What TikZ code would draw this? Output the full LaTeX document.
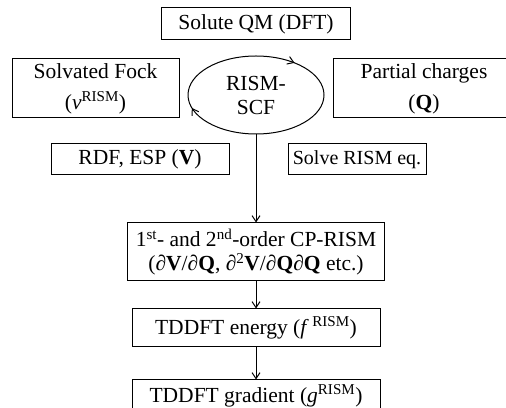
\documentclass[tikz,border=0pt]{standalone}
\usepackage{fontspec}
\setmainfont{Liberation Serif}
\usetikzlibrary{shapes,arrows.meta,positioning,decorations.markings}
\tikzstyle{arrow} = [draw, -{Straight Barb[length=6pt,width=8pt]}]
\tikzstyle{box} = [draw, rectangle, inner sep=0pt, align=center]
\tikzstyle{loopmark} = [decoration={markings,
    mark=at position 0.135 with {\arrowreversed{Straight Barb[length=6pt,width=8pt]}},
    mark=at position 0.54 with {\arrowreversed{Straight Barb[length=6pt,width=8pt]}}},
    postaction={decorate}]
\begin{document}
\begin{tikzpicture}[
      x=1pt, y=1pt,
      line width=1pt,
      font=\fontsize{21.5}{24}\selectfont
    ]
      \useasboundingbox (0,0) rectangle (506,407);
      \clip (0,0) rectangle (506,407);

      \node[ellipse, draw, loopmark, minimum width=136pt, minimum height=78pt, inner sep=0pt,
            align=center] (rismScf) at (256,312) {RISM-\\SCF};
      \node[box, minimum width=189pt, minimum height=32pt] (soluteQm) [above=15pt of rismScf] {Solute QM (DFT)};
      \node[box, minimum width=167pt, minimum height=59pt] (solvFock) at (95.5,318.5)
        {Solvated Fock\\[7pt](\textit{ν}\textsuperscript{RISM})};
      \node[box, minimum width=182pt, minimum height=59pt] (partCharges) at (424,318.5)
        {Partial charges\\[7pt](\textbf{Q})};
      \node[box, minimum width=178pt, minimum height=31pt] (rdfEsp) at (140,247.5) {RDF, ESP (\textbf{V})};
      \node[box, minimum width=138pt, minimum height=31pt,
            font=\fontsize{20}{23}\selectfont] (solveRism) at (357,247.5) {Solve RISM eq.};

      \node[box, minimum width=257pt, minimum height=58pt] (cpRism) [below=88pt of rismScf]
        {1\textsuperscript{st}- and 2\textsuperscript{nd}-order CP-RISM\\
         (\textit{∂}\textbf{V}/\textit{∂}\textbf{Q}, \textit{∂}\textsuperscript{2}\textbf{V}/\textit{∂}\textbf{Q}\textit{∂}\textbf{Q} etc.)};
      \node[box, minimum width=248pt, minimum height=38pt] (tdEnergy) [below=27pt of cpRism]
        {TDDFT energy (\textit{f}\,\textsuperscript{RISM})};
      \node[box, minimum width=248pt, minimum height=32pt] (tdGrad) [below=32pt of tdEnergy]
        {TDDFT gradient (\textit{g}\textsuperscript{RISM})};

      \path[arrow] (rismScf) edge (cpRism);
      \path[arrow] (cpRism) edge (tdEnergy);
      \path[arrow] (tdEnergy) edge (tdGrad);
    \end{tikzpicture}
\end{document}
